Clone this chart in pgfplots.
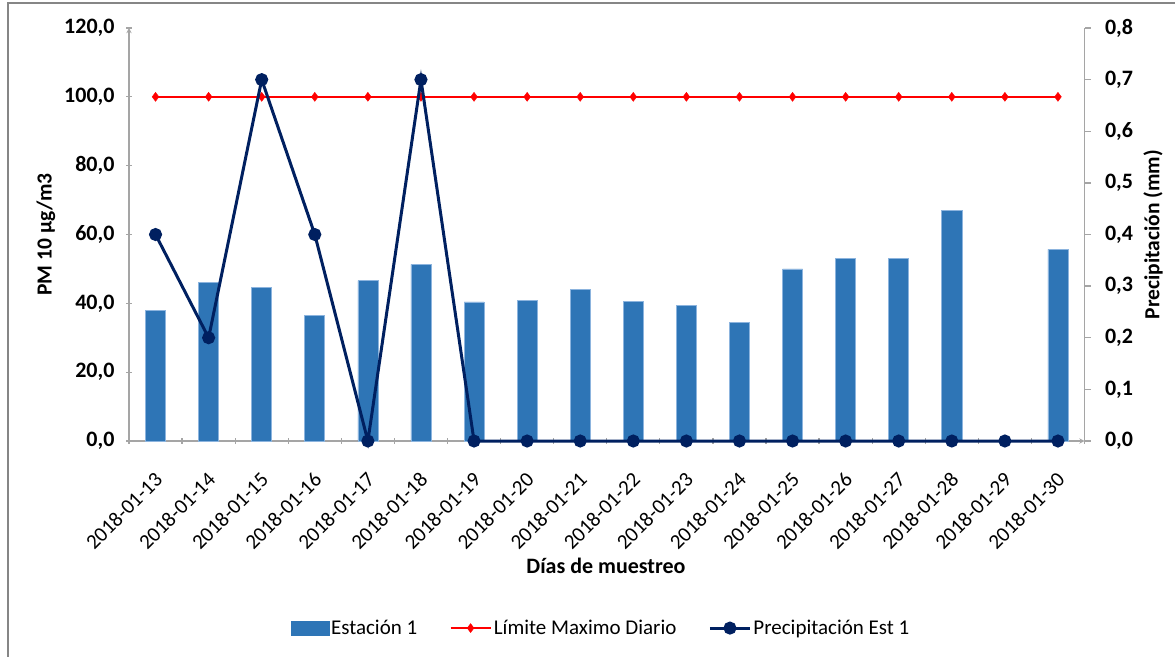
\documentclass[border=0pt]{standalone}
\usepackage{fontspec}
\setmainfont{Carlito}
\usepackage{pgfplots}
\pgfplotsset{compat=1.18}
\usepackage{pgfplotstable}

\definecolor{barblue}{RGB}{46,117,182}
\definecolor{baredge}{RGB}{140,180,222}
\definecolor{limred}{RGB}{255,0,0}
\definecolor{navy}{RGB}{0,32,96}
\definecolor{axgray}{RGB}{165,165,165}
\definecolor{framegray}{RGB}{134,134,134}

% daily PM10 (Estación 1), daily limit and precipitation
\pgfplotstableread{
x pm prec lim
0 38.0 0.4 100
1 46.0 0.2 100
2 44.7 0.7 100
3 36.5 0.4 100
4 46.6 0.0 100
5 51.3 0.7 100
6 40.4 0.0 100
7 40.9 0.0 100
8 44.1 0.0 100
9 40.6 0.0 100
10 39.4 0.0 100
11 34.5 0.0 100
12 50.0 0.0 100
13 53.0 0.0 100
14 53.0 0.0 100
15 66.9 0.0 100
16 nan 0.0 100
17 55.7 0.0 100
}\datatable

\pgfplotsset{
  common/.style={
    scale only axis, width=955.5pt, height=413pt,
    at={(129pt,215pt)}, anchor=south west,
    xmin=-0.5, xmax=17.5, clip=false,
    /pgf/number format/assume math mode=true,
    /pgf/number format/.cd, use comma, fixed, fixed zerofill, precision=1, /pgfplots/.cd,
    axis line style={axgray, line width=1.3pt, -},
    tick style={axgray, line width=1.3pt},
    tick align=outside, major tick length=6pt, minor tick length=6pt,
    yticklabel style={font=\fontsize{22}{26}\selectfont\bfseries, black},
    ylabel style={font=\fontsize{21.5}{25}\selectfont\bfseries, black},
  },
}

\begin{document}
\begin{tikzpicture}
\path[use as bounding box] (0pt,0pt) rectangle (1175pt,656pt);
\draw[framegray, line width=2pt] (8pt,-5pt) -- (8pt,653pt) -- (1180pt,653pt);

\begin{axis}[common,
  ymin=0, ymax=120, ytick={0,20,40,60,80,100,120},
  axis x line=bottom, axis y line=left,
  xtick={0,...,17},
  xticklabels={2018-01-13,2018-01-14,2018-01-15,2018-01-16,2018-01-17,2018-01-18,2018-01-19,2018-01-20,2018-01-21,2018-01-22,2018-01-23,2018-01-24,2018-01-25,2018-01-26,2018-01-27,2018-01-28,2018-01-29,2018-01-30},
  every major x tick/.append style={draw=none},
  minor xtick={-0.5,0.5,...,17.5},
  xticklabel style={font=\fontsize{21}{25}\selectfont, rotate=45, anchor=north east, inner sep=0pt, xshift=-20.5pt, yshift=-17.5pt},
  yticklabel style={xshift=-8pt},
  xlabel={Días de muestreo},
  xlabel style={font=\fontsize{22}{26}\selectfont\bfseries, at={(axis description cs:0.4992,-0.3027)}, anchor=center},
  ylabel={PM 10 µg/m3},
  ylabel style={at={(axis description cs:-0.0869,0.5)}, rotate=0, anchor=center},
]
\addplot[ybar, bar width=0.377, fill=barblue, draw=baredge, line width=0.6pt]
  table[x=x, y=pm]{\datatable};
\addplot[limred, line width=2.6pt, mark=diamond*, mark size=4.5pt,
  mark options={fill=limred, line width=0.4pt}]
  table[x=x, y=lim]{\datatable};
\end{axis}

\begin{axis}[common,
  ymin=0, ymax=0.8, ytick={0,0.1,0.2,0.3,0.4,0.5,0.6,0.7,0.8},
  axis y line*=right, axis x line=none,
  yticklabel style={xshift=11pt},
  ylabel={Precipitación (mm)},
  ylabel style={at={(axis description cs:1.0717,0.5)}, rotate=0, anchor=center},
  legend columns=3,
  legend style={at={(0.494,-0.453)}, anchor=center, draw=none, fill=none,
    font=\fontsize{21}{25}\selectfont, nodes={inner sep=2pt},
    /tikz/every even column/.style={column sep=30pt}},
  legend cell align=left,
  legend image code/.code={\draw[#1, mark repeat=2, mark phase=2] plot coordinates {(0pt,0pt) (20pt,0pt) (40pt,0pt)};},
]
\addlegendimage{legend image code/.code={\fill[barblue] (0pt,-7pt) rectangle (38pt,7pt);}}
\addlegendentry{Estación 1}
\addlegendimage{limred, line width=2.6pt, mark=diamond*, mark size=4.5pt, mark options={fill=limred, line width=0.4pt}}
\addlegendentry{Límite Maximo Diario}
\addplot[navy, line width=3pt, mark=*, mark size=5pt, mark options={fill=navy}]
  table[x=x, y=prec]{\datatable};
\addlegendentry{Precipitación Est 1}
\end{axis}
\end{tikzpicture}
\end{document}
